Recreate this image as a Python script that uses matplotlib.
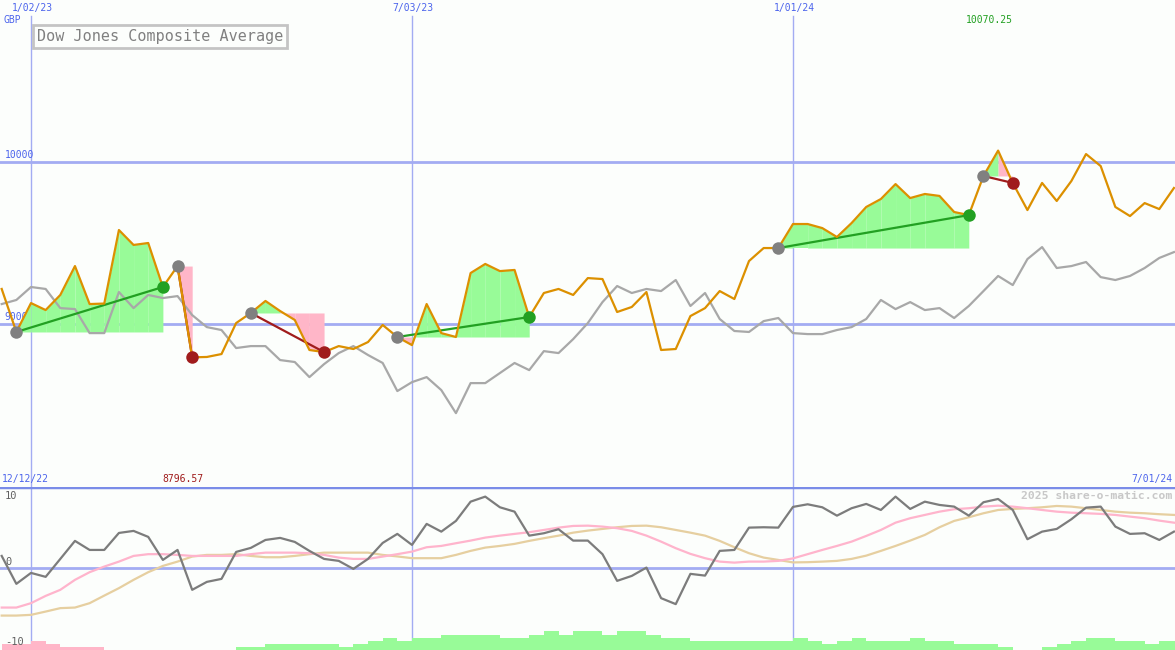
import numpy as np
import pandas as pd
import matplotlib
matplotlib.use("Agg")
import matplotlib.pyplot as plt

# ---------------- data ----------------
start_date = "2022-12-19"          # first weekly point (Mondays)
n_weeks = 81

price = [9218, 8953, 9131, 9088, 9181, 9359, 9125, 9128, 9581, 9489,
         9501, 9230, 9359, 8796.57, 8799, 8817, 9008, 9070, 9144, 9082,
         9027, 8842, 8829, 8866, 8848, 8891, 8996, 8922, 8872, 9125,
         8946, 8922, 9316, 9372, 9328, 9335, 9045, 9193, 9218, 9181,
         9285, 9279, 9076, 9107, 9199, 8842, 8848, 9051, 9100, 9205,
         9156, 9390, 9470, 9470, 9618, 9618, 9593, 9538, 9624, 9723,
         9772, 9864, 9778, 9803, 9791, 9692, 9673, 9914, 10070.25, 9871,
         9704, 9871, 9760, 9883, 10049, 9975, 9723, 9667, 9747, 9710,
         9840]

compare = [9125, 9150, 9230, 9218, 9100, 9094, 8946, 8946, 9199, 9100,
           9181, 9162, 9174, 9057, 8983, 8965, 8854, 8866, 8866, 8780,
           8768, 8675, 8755, 8823, 8866, 8811, 8762, 8589, 8644, 8675,
           8595, 8453, 8638, 8638, 8700, 8762, 8718, 8835, 8823, 8909,
           9008, 9137, 9236, 9193, 9218, 9205, 9273, 9113, 9193, 9033,
           8959, 8953, 9020, 9039, 8946, 8940, 8940, 8965, 8983, 9033,
           9150, 9094, 9137, 9088, 9100, 9039, 9113, 9205, 9298, 9242,
           9402, 9476, 9347, 9359, 9384, 9291, 9273, 9298, 9347, 9409,
           9445]

osc = [1.60, -2.23, -0.73, -1.27, 1.19, 3.66, 2.42, 2.42, 4.75, 5.03,
       4.21, 1.05, 2.42, -3.05, -1.96, -1.55, 2.15, 2.70, 3.79, 4.07,
       3.52, 2.29, 1.19, 0.92, -0.18, 1.19, 3.38, 4.62, 3.11, 5.99,
       4.93, 6.40, 9.04, 9.73, 8.27, 7.67, 4.38, 4.71, 5.26, 3.70,
       3.70, 1.84, -1.82, -1.14, 0.00, -4.19, -5.01, -0.86, -1.10, 2.29,
       2.42, 5.48, 5.53, 5.48, 8.32, 8.68, 8.27, 7.12, 8.14, 8.73,
       7.90, 9.73, 8.04, 9.04, 8.59, 8.36, 7.12, 8.96, 9.41, 7.90,
       3.89, 4.93, 5.30, 6.63, 8.22, 8.36, 5.62, 4.62, 4.71, 3.79,
       4.93]

signal_fast = [-5.48, -5.48, -4.88, -3.88, -3.05, -1.68, -0.63, 0.14, 0.82, 1.60,
               1.84, 1.84, 1.74, 1.60, 1.60, 1.60, 1.60, 1.84, 2.05, 2.05,
               2.05, 1.97, 1.74, 1.37, 1.19, 1.19, 1.51, 1.84, 2.19, 2.79,
               2.97, 3.34, 3.70, 4.11, 4.38, 4.62, 4.85, 5.16, 5.48, 5.71,
               5.75, 5.62, 5.40, 5.03, 4.38, 3.56, 2.66, 1.88, 1.29, 0.82,
               0.68, 0.82, 0.82, 0.92, 1.26, 1.84, 2.42, 2.97, 3.56, 4.34,
               5.16, 6.16, 6.77, 7.22, 7.67, 8.00, 8.14, 8.36, 8.49, 8.36,
               8.14, 7.90, 7.67, 7.53, 7.45, 7.36, 7.22, 6.99, 6.77, 6.44,
               6.16]

signal_slow = [-6.58, -6.58, -6.48, -6.03, -5.56, -5.48, -4.88, -3.84, -2.82, -1.68,
               -0.63, 0.23, 0.82, 1.51, 1.74, 1.74, 1.84, 1.60, 1.42, 1.42,
               1.60, 1.84, 2.05, 2.05, 2.05, 2.05, 1.74, 1.53, 1.29, 1.29,
               1.29, 1.74, 2.29, 2.74, 2.97, 3.25, 3.66, 4.03, 4.38, 4.79,
               5.07, 5.30, 5.53, 5.71, 5.75, 5.53, 5.16, 4.79, 4.38, 3.66,
               2.79, 1.97, 1.37, 1.05, 0.71, 0.74, 0.82, 0.92, 1.19, 1.64,
               2.29, 2.97, 3.70, 4.48, 5.53, 6.40, 6.90, 7.45, 7.90, 8.04,
               8.14, 8.27, 8.45, 8.36, 8.14, 7.90, 7.67, 7.53, 7.45, 7.32,
               7.22]

hist = [-0.78, -0.78, -1.23, -0.78, -0.37, -0.37, -0.37, 0, 0, 0,
        0, 0, 0, 0, 0, 0, 0.37, 0.37, 0.78, 0.78,
        0.78, 0.78, 0.78, 0.37, 0.78, 1.23, 1.60, 1.27, 1.60, 1.60,
        2.05, 2.05, 2.05, 2.05, 1.60, 1.60, 2.05, 2.60, 2.05, 2.60,
        2.60, 2.05, 2.60, 2.60, 2.05, 1.60, 1.60, 1.27, 1.27, 1.27,
        1.27, 1.27, 1.27, 1.27, 1.60, 1.27, 0.82, 1.27, 1.60, 1.27,
        1.27, 1.27, 1.60, 1.27, 1.27, 0.82, 0.82, 0.82, 0.37, 0,
        0, 0.37, 0.82, 1.27, 1.60, 1.60, 1.27, 1.27, 0.82, 1.27,
        1.27]

# trades: (entry week index, exit week index)
trade_entry = [1, 12, 17, 27, 53, 67]
trade_exit = [11, 13, 22, 36, 66, 69]

grid_dates = ["2023-01-02", "2023-07-03", "2024-01-01"]
grid_labels = ["1/02/23", "7/03/23", "1/01/24"]
price_levels = [10000, 9000]
price_level_labels = ["10000", "9000"]
osc_levels = [10, 0, -10]
osc_level_labels = ["10", "0", "-10"]
title = "Dow Jones Composite Average"
currency = "GBP"
range_start_label = "12/12/22"
range_end_label = "7/01/24"
high_label = "10070.25"
low_label = "8796.57"
watermark = "2025 share-o-matic.com"

# ---------------- styling ----------------
W, H = 1175, 650
BG = "#fcfefc"
GRID = "#a3acf2"
DIV = "#7a8ce8"
BLUE_TXT = "#4c64ec"
ORANGE = "#dc9000"
GREY = "#a8a8a8"
DGREY = "#7c7c7c"
PINK_LINE = "#ffb4cc"
TAN_LINE = "#e6cfa0"
FILL_G = "#98fb98"
FILL_P = "#ffb6c8"
WIN = "#22a022"
LOSS = "#a01c1c"
MONO = "DejaVu Sans Mono"

dates = pd.date_range(start_date, periods=n_weeks, freq="7D")
price = np.array(price, float)
compare = np.array(compare, float)

fig = plt.figure(figsize=(W / 100, H / 100), dpi=100, facecolor=BG)
div_y = 487
ax = fig.add_axes([0, 1 - div_y / H, 1, div_y / H])
ax2 = fig.add_axes([0, 0, 1, 1 - div_y / H])
for a in (ax, ax2):
    a.set_facecolor(BG)
    for s in a.spines.values():
        s.set_visible(False)
    a.set_xticks([])
    a.set_yticks([])

ref = pd.Timestamp("2023-01-02")
x0 = ref - pd.Timedelta(days=14.81)
x1 = ref + pd.Timedelta(days=546.5)
ax.set_xlim(x0, x1)
ax2.set_xlim(x0, x1)
ax.set_ylim(7998, 10998)
ax2.set_ylim(-11.3, 11.05)

def fpx(x, y):
    return x / W, 1 - y / H

# ---- main panel grid ----
for lv in price_levels:
    ax.axhline(lv, color=GRID, lw=2, zorder=1)
for d in grid_dates:
    ax.axvline(pd.Timestamp(d), ymax=0.967, color=GRID, lw=1, zorder=1)
    ax2.axvline(pd.Timestamp(d), color=GRID, lw=1, zorder=1)

for lv, lb in zip(price_levels, price_level_labels):
    ax.text(x0 + pd.Timedelta(days=2.3), lv + 12, lb, color=BLUE_TXT, fontsize=7,
            family=MONO, va="bottom", ha="left", zorder=1.5)

for d, lb in zip(grid_dates, grid_labels):
    ax.annotate(lb, xy=(pd.Timestamp(d), 1), xycoords=("data", "axes fraction"),
                xytext=(1, -8), textcoords="offset pixels", ha="center", va="center",
                color=BLUE_TXT, fontsize=7, family=MONO)

# ---- trade fills ----
for e, x in zip(trade_entry, trade_exit):
    lvl = price[e]
    for i in range(e, x):
        seg_x = dates[i:i + 2]
        seg_y = price[i:i + 2]
        col = FILL_G if price[i + 1] >= lvl else FILL_P
        ax.fill_between(seg_x, seg_y, lvl, color=col, lw=0, zorder=2)

# ---- lines ----
ax.plot(dates, compare, color=GREY, lw=1.6, zorder=3)
ax.plot(dates, price, color=ORANGE, lw=1.6, zorder=4)

for e, x in zip(trade_entry, trade_exit):
    win = price[x] >= price[e]
    col = WIN if win else LOSS
    ax.plot([dates[e], dates[x]], [price[e], price[x]], color=col, lw=1.6, zorder=3.5)
    ax.plot(dates[e], price[e], "o", ms=9, color="#808080", mec="none", zorder=6)
    ax.plot(dates[x], price[x], "o", ms=9, color=col, mec="none", zorder=6)

# ---- texts main ----
fig.text(*fpx(160, 36.5), title, ha="center", va="center", fontsize=10.9, family=MONO,
         color="#808080",
         bbox=dict(boxstyle="square,pad=0.25", fc=BG, ec="#c4c4c4", lw=2))
fig.text(*fpx(4, 20), currency, ha="left", va="center", fontsize=7, family=MONO, color=BLUE_TXT)
fig.text(*fpx(989, 20), high_label, ha="center", va="center", fontsize=7, family=MONO, color=WIN)
fig.text(*fpx(183, 479), low_label, ha="center", va="center", fontsize=7, family=MONO, color=LOSS)
fig.text(*fpx(2, 479), range_start_label, ha="left", va="center", fontsize=7, family=MONO, color=BLUE_TXT)
fig.text(*fpx(1172, 479), range_end_label, ha="right", va="center", fontsize=7, family=MONO, color=BLUE_TXT)

# ---- lower panel ----
ax2.axhline(0, color=GRID, lw=2, zorder=1)
ax2.axhline(11.05, color=DIV, lw=2.5, zorder=7)

h = np.array(hist, float)
bar_cols = [FILL_G if v >= 0 else FILL_P for v in h]
ax2.bar(dates, np.abs(h), width=7, align="edge", bottom=-11.3, color=bar_cols, lw=0, zorder=2)

ax2.plot(dates, signal_slow, color=TAN_LINE, lw=1.6, zorder=3)
ax2.plot(dates, signal_fast, color=PINK_LINE, lw=1.6, zorder=3)
ax2.plot(dates, osc, color=DGREY, lw=1.6, zorder=4)

lab_y = {10: 496, 0: 562, -10: 642}
for lv, lb in zip(osc_levels, osc_level_labels):
    fig.text(*fpx(5, lab_y[lv]), lb, ha="left", va="center", fontsize=7.5, family=MONO,
             color="#606060", zorder=8)

fig.text(*fpx(1172, 496), watermark, ha="right", va="center", fontsize=8.2, family=MONO,
         color="#c8c8c8", fontweight="bold")

fig.savefig("out.png", dpi=100, facecolor=BG)
